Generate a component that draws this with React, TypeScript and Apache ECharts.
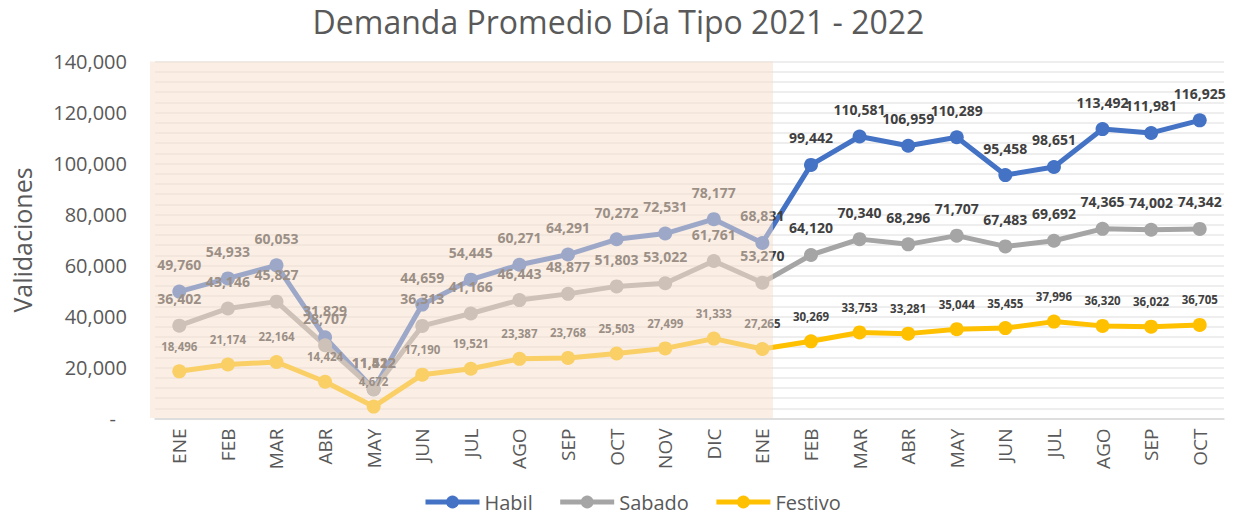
import React, { useEffect, useRef } from "react";
import * as echarts from "echarts";

const categories = ["ENE","FEB","MAR","ABR","MAY","JUN","JUL","AGO","SEP","OCT","NOV","DIC","ENE","FEB","MAR","ABR","MAY","JUN","JUL","AGO","SEP","OCT"];
const habil = [49760,54933,60053,31829,11512,44659,54445,60271,64291,70272,72531,78177,68831,99442,110581,106959,110289,95458,98651,113492,111981,116925];
const sabado = [36402,43146,45827,28707,11422,36313,41166,46443,48877,51803,53022,61761,53270,64120,70340,68296,71707,67483,69692,74365,74002,74342];
const festivo = [18496,21174,22164,14424,4672,17190,19521,23387,23768,25503,27499,31333,27265,30269,33753,33281,35044,35455,37996,36320,36022,36705];
const seriesNames = ["Habil","Sabado","Festivo"];
const colors = ["#4472C4","#A5A5A5","#FFC000"];

const W = 1237;
const H = 519;
const GRID = { left: 155, right: 13, top: 61.5, bottom: 100.5 };
const FONT = "'Open Sans', 'Noto Sans', sans-serif";

const fmt = (v: number) => String(Math.round(v)).replace(/\B(?=(\d{3})+(?!\d))/g, ",");

export default function App() {
  const ref = useRef<HTMLDivElement>(null);
  useEffect(() => {
    document.body.style.margin = "0";
    if (!ref.current) return;
    const chart = echarts.init(ref.current, undefined, { renderer: "svg" });
    const catW = (W - GRID.left - GRID.right) / categories.length;
    const shadeLeft = GRID.left - 5;
    const shadeRight = GRID.left + catW * 12.5 + 10.5;
    const mk = (name: string, data: number[], color: string, small: boolean) => ({
      name,
      type: "line",
      data,
      symbol: "circle",
      symbolSize: 14,
      itemStyle: { color },
      lineStyle: { width: 5, color },
      label: {
        show: true,
        position: "top",
        distance: small ? 12 : 13,
        fontSize: small ? 11.5 : 14,
        fontWeight: "bold",
        fontFamily: FONT,
        color: "#404040",
        formatter: (p: any) => fmt(p.value),
      },
      emphasis: { disabled: true },
    });
    chart.setOption({
      animation: false,
      backgroundColor: "#ffffff",
      textStyle: { fontFamily: FONT },
      title: {
        text: "Demanda Promedio Día Tipo 2021 - 2022",
        left: "center",
        top: 0,
        textStyle: { fontSize: 32, fontWeight: "normal", color: "#595959", fontFamily: FONT },
      },
      legend: {
        bottom: 2,
        left: 418,
        itemWidth: 54,
        itemHeight: 16,
        itemGap: 25,
        lineStyle: { width: 5 },
        textStyle: { fontSize: 20, color: "#595959", fontFamily: FONT },
        data: seriesNames,
      },
      grid: { ...GRID, containLabel: false, outerBoundsMode: "none" },
      xAxis: {
        type: "category",
        data: categories,
        boundaryGap: true,
        axisLine: { show: true, lineStyle: { color: "#D9D9D9", width: 1.5 } },
        axisTick: { show: false },
        axisLabel: { rotate: 90, fontSize: 19, color: "#595959", margin: 10, interval: 0, fontFamily: FONT },
      },
      yAxis: {
        type: "value",
        min: 0,
        max: 140000,
        interval: 20000,
        name: "Validaciones",
        nameLocation: "middle",
        nameRotate: 90,
        nameGap: 121,
        nameTextStyle: { fontSize: 25, color: "#595959", fontFamily: FONT },
        axisLine: { show: false },
        axisTick: { show: false },
        axisLabel: {
          fontSize: 20,
          color: "#595959",
          margin: 28,
          fontFamily: FONT,
          formatter: (v: number) => (v === 0 ? "{z|-}" : fmt(v)),
          rich: { z: { fontSize: 20, color: "#595959", padding: [0, 11, 0, 0] } },
        },
        splitLine: { show: true, lineStyle: { color: "#E8E8E8", width: 1.5 } },
        minorTick: { show: false, splitNumber: 5 },
        minorSplitLine: { show: true, lineStyle: { color: "#E8E8E8", width: 1.5 } },
      },
      series: [
        mk(seriesNames[0], habil, colors[0], false),
        mk(seriesNames[1], sabado, colors[1], false),
        mk(seriesNames[2], festivo, colors[2], true),
      ],
      graphic: [
        {
          type: "rect",
          z: 100,
          silent: true,
          shape: { x: shadeLeft, y: GRID.top, width: shadeRight - shadeLeft, height: H - GRID.bottom - GRID.top - 0.5 },
          style: { fill: "rgba(246, 222, 204, 0.5)" },
        },
      ],
    });
    return () => chart.dispose();
  }, []);
  return <div ref={ref} style={{ width: W, height: H }} />;
}
